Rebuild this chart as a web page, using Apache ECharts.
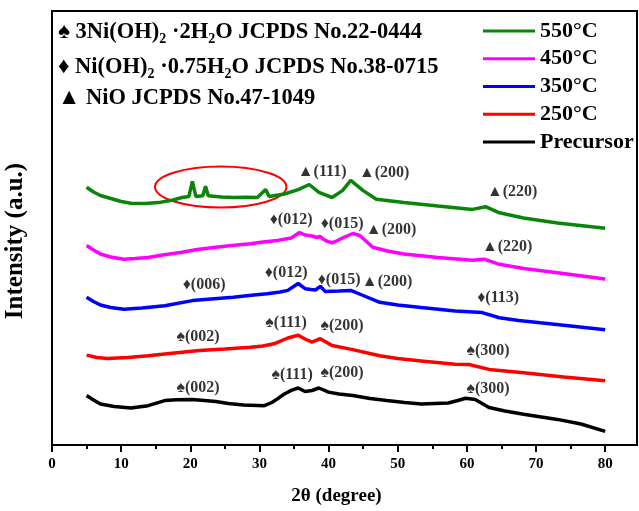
<!DOCTYPE html>
<html>
<head>
<meta charset="utf-8">
<script src="https://cdn.jsdelivr.net/npm/echarts/dist/echarts.min.js"></script>
<style>
    html, body { margin: 0; padding: 0; background: #fff; }
    #xrd { width: 639px; height: 511px; }
</style>
</head>
<body>
<div id="xrd"></div>
<script>
// XRD patterns, intensity in arbitrary units (curves offset for display)
var names = ['550°C', '450°C', '350°C', '250°C', 'Precursor'];
var colors = ['#0a850a', '#ff00ff', '#0000ff', '#ff0000', '#000000'];

var tt550 = [5, 6, 7, 8, 9, 10, 11.4, 13.5, 15.4, 17.5, 18.8, 19.8, 20.3, 20.8, 21.8, 22.2, 22.6, 24.5, 26.2, 28, 29.7, 30.9, 31.4, 33.6, 35.6, 37.2, 38.6, 40.5, 42, 43.2, 45, 46.9, 50.9, 55.8, 60.8, 62.7, 64.7, 68.2, 73.1, 80];
var int550 = [257.8, 253, 249.5, 247.5, 245.5, 243.5, 241.8, 241.5, 242.4, 245, 247.5, 248.6, 263.6, 248.6, 249.3, 258.8, 249.3, 248, 247.5, 247.8, 247.5, 255.4, 248.6, 251, 255.4, 260.5, 252.7, 247.5, 254.4, 264.6, 254.4, 245.8, 242.4, 239, 235.6, 238.3, 232.2, 227, 221.9, 216.8];

var tt450 = [5, 6, 7, 8.5, 10.4, 12, 13.9, 16, 18.8, 21, 23.7, 26, 28.7, 30.5, 32.6, 34.6, 35.8, 36.6, 37.6, 38.3, 38.8, 39.3, 39.8, 40.5, 41.3, 42, 43.5, 44.5, 46.4, 48.5, 50.9, 55.8, 60.8, 62.5, 64.7, 68.2, 73.1, 80];
var int450 = [199.5, 195, 191, 188, 185.8, 186.5, 187.6, 190, 192.7, 195.5, 197.8, 199.5, 201.2, 203, 204.6, 207, 212.5, 210, 209, 207.5, 208.5, 205.5, 203.6, 202.2, 204.5, 207, 211.5, 209.5, 197.8, 194, 191, 187.5, 184.8, 185.8, 180.7, 176.6, 172.2, 166];

var tt350 = [5, 6, 7, 8.5, 10.4, 13, 16.3, 20.3, 23, 26.2, 28.5, 31.1, 33, 34.1, 35.6, 36.6, 37.5, 38.1, 38.8, 39.5, 40.5, 41.5, 43.2, 45, 47.4, 50, 53.4, 58.3, 62.2, 64.7, 67.5, 70.6, 75, 80];
var int350 = [147.8, 143.5, 140, 137.5, 135.8, 137, 139.3, 144.4, 146, 147.8, 149.5, 151.2, 153, 154.6, 161.5, 156.3, 155.5, 155, 158.7, 153.6, 153.8, 154, 154.6, 149.5, 142.7, 140, 137.5, 134.1, 132.4, 127.3, 124.5, 122.2, 119, 115.3];

var tt250 = [5, 6.5, 8, 11, 13.9, 17, 21.3, 25, 28.7, 30.5, 32.1, 34.1, 35.6, 36.6, 37.6, 38.8, 40.5, 43.5, 47.4, 50, 53.4, 58.3, 60.3, 63.2, 68.2, 74, 80];
var int250 = [89.9, 87.5, 86.5, 87.5, 89.3, 91.5, 94.4, 96, 97.8, 99, 101.2, 107, 109.8, 106, 102.9, 106.3, 99.5, 95.4, 89.3, 86.5, 84.1, 80.7, 80.5, 75.6, 72.2, 68, 64.3];

var ttPre = [5, 6, 7, 9, 11.4, 13.9, 16.3, 18, 20.3, 23.7, 25.5, 27.7, 30.7, 31.8, 32.6, 33.6, 34.6, 35.6, 36.6, 37.6, 38.6, 40, 41.5, 43.5, 46, 48.4, 51, 53.4, 57.3, 58.7, 59.8, 61.2, 63.2, 65.5, 68.2, 73.1, 76.5, 80];
var intPre = [49.5, 45, 41, 38.5, 36.9, 39.3, 44.4, 45.2, 45.4, 43.4, 41.5, 39.9, 39.3, 42.5, 46.1, 51, 54.6, 57, 53.5, 54.5, 57, 52.9, 51, 49.5, 46.5, 44.4, 42.5, 41, 42, 44.5, 46.8, 45.5, 37.5, 34, 30.7, 25.6, 21, 13.6];

// peak indexing labels (2theta, intensity position, text)
var peakX = [39.06, 48.03, 66.55, 34.58, 41.95, 49.04, 65.82, 21.99, 33.85, 41.52, 48.46, 64.52, 21.12, 33.85, 41.95, 63.07, 21.12, 34.72, 41.95, 63.07];
var peakY = [273, 272.5, 253, 225.4, 221.3, 215, 198, 160, 172, 165, 163, 147, 108, 122, 119.4, 94.4, 57, 70.5, 72, 56.3];
var peakText = ['▲(111)', '▲(200)', '▲(220)', '♦(012)', '♦(015)', '▲(200)', '▲(220)',
    '♦(006)', '♦(012)', '♦(015)', '▲(200)', '♦(113)',
    '♠(002)', '♠(111)', '♠(200)', '♠(300)',
    '♠(002)', '♠(111)', '♠(200)', '♠(300)'];

var xMajorTicks = [0, 10, 20, 30, 40, 50, 60, 70, 80];
var xMinorTicks = [5, 15, 25, 35, 45, 55, 65, 75];

var serif = '"Liberation Serif", "Times New Roman", serif';

function pairs(xs, ys) {
    var out = [];
    for (var i = 0; i < xs.length; i++) {
        out.push([xs[i], ys[i]]);
    }
    return out;
}

var curves = [pairs(tt550, int550), pairs(tt450, int450), pairs(tt350, int350), pairs(tt250, int250), pairs(ttPre, intPre)];

var series = [];
for (var i = 0; i < names.length; i++) {
    series.push({
        name: names[i],
        type: 'line',
        xAxisIndex: 0,
        data: curves[i],
        showSymbol: false,
        symbol: 'none',
        lineStyle: { color: colors[i], width: 3.5 },
        itemStyle: { color: colors[i] },
        animation: false
    });
}

var peakData = [];
for (var j = 0; j < peakX.length; j++) {
    peakData.push([peakX[j], peakY[j], peakText[j]]);
}
series.push({
    type: 'scatter',
    data: peakData,
    symbolSize: 1,
    silent: true,
    itemStyle: { color: 'transparent' },
    label: {
        show: true,
        position: 'inside',
        color: '#000',
        fontFamily: serif,
        fontWeight: 'bold',
        fontSize: 16,
        formatter: function (p) { return p.value[2]; }
    },
    animation: false
});

var subRich = {
    s: { fontSize: 14, fontWeight: 'bold', fontFamily: serif, lineHeight: 14, verticalAlign: 'bottom', fill: '#000' },
    m: { fontSize: 22.5, fontWeight: 'bold', fontFamily: serif, lineHeight: 29, fill: '#000' }
};

function phaseText(id, y, txt) {
    return {
        type: 'text',
        id: id,
        x: 58,
        y: y,
        silent: true,
        style: {
            text: txt,
            rich: subRich,
            fontSize: 22.5,
            fontWeight: 'bold',
            fontFamily: serif,
            fill: '#000',
            verticalAlign: 'middle'
        }
    };
}

var option = {
    backgroundColor: '#fff',
    animation: false,
    grid: {
        left: 52,
        right: 2,
        top: 11,
        bottom: 66,
        outerBoundsMode: 'none',
        show: true,
        borderColor: '#000',
        borderWidth: 2
    },
    legend: {
        data: names,
        orient: 'vertical',
        left: 483,
        top: 20,
        padding: 0,
        itemGap: 5.75,
        itemWidth: 52,
        itemHeight: 3,
        icon: 'rect',
        textStyle: {
            color: '#000',
            fontFamily: serif,
            fontWeight: 'bold',
            fontSize: 22,
            lineHeight: 22
        }
    },
    xAxis: [{
        type: 'value',
        min: 0,
        max: 84.6,
        name: '2θ (degree)',
        nameLocation: 'middle',
        nameGap: 42,
        nameTextStyle: { color: '#000', fontFamily: serif, fontWeight: 'bold', fontSize: 19, padding: [0, 16, 0, 0] },
        axisLine: { lineStyle: { color: '#000', width: 2 } },
        axisTick: { customValues: xMajorTicks, length: 7, lineStyle: { color: '#000', width: 2 } },
        axisLabel: {
            customValues: xMajorTicks,
            margin: 12,
            color: '#000',
            fontFamily: serif,
            fontWeight: 'bold',
            fontSize: 15
        },
        splitLine: { show: false }
    }, {
        type: 'value',
        min: 0,
        max: 84.6,
        position: 'bottom',
        axisLine: { show: false },
        axisTick: { customValues: xMinorTicks, length: 4, lineStyle: { color: '#000', width: 2 } },
        axisLabel: { show: false },
        splitLine: { show: false }
    }],
    yAxis: {
        type: 'value',
        min: 0,
        max: 434,
        name: 'Intensity (a.u.)',
        nameLocation: 'middle',
        nameGap: 24,
        nameTextStyle: { color: '#000', fontFamily: serif, fontWeight: 'bold', fontSize: 25, padding: [0, 26, 0, 0] },
        axisLine: { show: true, lineStyle: { color: '#000', width: 2 } },
        axisTick: { show: false },
        axisLabel: { show: false },
        splitLine: { show: false }
    },
    graphic: [
        phaseText('p1', 32, '{m|♠ 3Ni(OH)}{s|2}{m| ·2H}{s|2}{m|O JCPDS No.22-0444}'),
        phaseText('p2', 67, '{m|♦ Ni(OH)}{s|2}{m| ·0.75H}{s|2}{m|O JCPDS No.38-0715}'),
        phaseText('p3', 98, '{m|▲ NiO JCPDS No.47-1049}')
    ],
    series: series
};

var xrdChart = echarts.init(document.getElementById('xrd'));
xrdChart.setOption(option);

// red ellipse around the weak peaks of the 550°C pattern (data coordinates)
var ringCenter = [24.4, 258];
var ringRadius = [9.5, 20.5];
var c = xrdChart.convertToPixel({ xAxisIndex: 0, yAxisIndex: 0 }, ringCenter);
var e = xrdChart.convertToPixel({ xAxisIndex: 0, yAxisIndex: 0 }, [ringCenter[0] + ringRadius[0], ringCenter[1] + ringRadius[1]]);
xrdChart.setOption({
    graphic: [{
        type: 'ellipse',
        id: 'ring',
        silent: true,
        shape: { cx: c[0], cy: c[1], rx: e[0] - c[0], ry: c[1] - e[1] },
        style: { fill: 'none', stroke: '#ff0000', lineWidth: 2 }
    }]
});
</script>
</body>
</html>
